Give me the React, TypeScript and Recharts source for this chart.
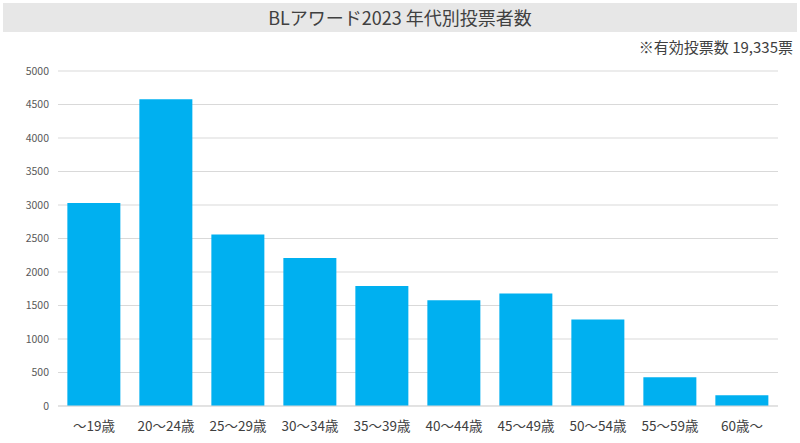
import { BarChart, Bar, XAxis, YAxis, CartesianGrid } from 'recharts';

const ageGroups = ['〜19歳', '20〜24歳', '25〜29歳', '30〜34歳', '35〜39歳', '40〜44歳', '45〜49歳', '50〜54歳', '55〜59歳', '60歳〜'];
const voters = [3030, 4580, 2560, 2210, 1790, 1580, 1680, 1290, 430, 160];
const yTicks = [0, 500, 1000, 1500, 2000, 2500, 3000, 3500, 4000, 4500, 5000];

const title = 'BLアワード2023 年代別投票者数';
const note = '※有効投票数 19,335票';

const FONT = '"Noto Sans CJK JP", "Noto Sans", sans-serif';

export default function App() {
  const data = ageGroups.map((age, i) => ({ age, voters: voters[i] }));

  return (
    <div style={{ position: 'absolute', left: 0, top: 0, width: 800, height: 443, background: '#fff', fontFamily: FONT }}>
      {/* title band */}
      <div
        style={{
          position: 'absolute',
          left: 3,
          top: 3,
          width: 794,
          height: 29,
          background: '#e7e7e7',
          color: '#404040',
          fontSize: 18,
          lineHeight: '29px',
          textAlign: 'center',
        }}
      >
        {title}
      </div>
      <div
        style={{
          position: 'absolute',
          right: 7,
          top: 37,
          fontSize: 15,
          lineHeight: '20px',
          color: '#404040',
        }}
      >
        {note}
      </div>

      <div style={{ position: 'absolute', left: 0, top: 0 }}>
        <BarChart
          width={800}
          height={443}
          data={data}
          margin={{ top: 71, right: 22, left: 0, bottom: 7 }}
          barCategoryGap="13%"
        >
          <CartesianGrid vertical={false} stroke="#d9d9d9" />
          <XAxis
            dataKey="age"
            height={30}
            tickLine={false}
            tickSize={0}
            tickMargin={15}
            axisLine={{ stroke: '#d9d9d9' }}
            interval={0}
            tick={{ fill: '#404040', fontSize: 13.5, fontFamily: FONT }}
          />
          <YAxis
            width={58}
            domain={[0, 5000]}
            ticks={yTicks}
            axisLine={false}
            tickLine={false}
            tickSize={0}
            tickMargin={9}
            tick={{ fill: '#595959', fontSize: 10.5, fontFamily: FONT }}
          />
          <Bar dataKey="voters" fill="#00b0f0" isAnimationActive={false} />
        </BarChart>
      </div>
    </div>
  );
}
